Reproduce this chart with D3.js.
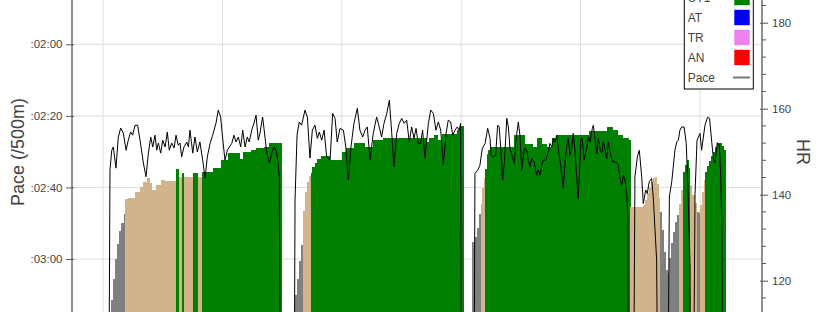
<!DOCTYPE html>
<html>
<head>
<meta charset="utf-8">
<script src="https://cdn.jsdelivr.net/npm/d3@7"></script>
<style>
html, body { margin: 0; padding: 0; background: #fff; overflow: hidden; }
svg { display: block; font-family: "Liberation Sans", Arial, sans-serif; }
</style>
</head>
<body>
<svg id="chart" width="819" height="312"></svg>
<script>
// HR zones (lower bound in bpm) and their colours
var zoneNames = ["<UT2", "UT2", "UT1", "AT", "TR", "AN"];
var zoneColors = ["gray", "tan", "green", "blue", "violet", "red"];
var zoneLower = [0, 136, 144.7, 160, 168, 176];

// tick values
var paceTicks = [120, 140, 160, 180];                // seconds per 500m
var hrTicks = [120, 140, 160, 180];
var hrMinorStep = 4;
var timeTicks = [600, 1200, 1800, 2400, 3000, 3600]; // seconds

// heart rate samples [time (s), bpm]; null closes the piece
var hrPiece1 = [[625,100],[635,108],[645,115.5],[655,120.5],[665,125],[675,128.5],[685,131.5],[695,133.5],
  [706,135.5],[713,138.9],[726,139.3],[761,140.7],[786,141.7],[801,143.0],[826,143.8],[836,142.8],[846,141.0],
  [871,142.2],[896,143.4],[912,143.1],[967,145.9],[983,144.2],[1000,145.1],[1008,144.2],[1057,145.1],
  [1079,144.2],[1101,145.3],[1154,146.1],[1196,148.0],[1230,149.8],[1288,148.4],[1305,150.0],[1347,150.5],
  [1372,150.9],[1414,151.2],[1439,152.0],[1498,null]];
var hrPiece2 = [[1555,110],[1565,116.6],[1575,120.5],[1585,124.5],[1595,128.2],[1605,132.2],[1610,136.2],
  [1620,140.6],[1630,142.9],[1640,144.3],[1648,145.0],[1655,146.4],[1670,147.3],[1680,148.3],[1700,149.0],
  [1741,148.0],[1801,149.9],[1826,150.8],[1866,152.0],[1917,151.1],[1957,152.7],[2007,153.2],[2228,152.2],
  [2243,153.2],[2268,153.9],[2283,152.7],[2308,154.1],[2379,155.0],[2394,156.0],[2414,null]];
var hrPiece3 = [[2459,129.0],[2474,130.1],[2484,132.2],[2494,135.5],[2502,137.8],[2509,141.5],[2517,143.9],
  [2522,146.0],[2530,149.5],[2537,150.5],[2545,151.0],[2670,153.9],[2721,151.9],[2761,151.1],[2781,153.1],
  [2806,151.9],[2831,151.1],[2861,153.1],[2886,153.9],[2911,154.0],[3047,154.8],[3133,155.8],[3163,155.0],
  [3188,154.0],[3213,153.1],[3243,152.7],[3251,137.1],[3314,137.5],[3324,138.7],[3334,140.3],[3344,141.7],
  [3354,142.9],[3364,143.8],[3374,144.1],[3384,142.4],[3394,139.2],[3401,135.9],[3409,131.7],[3419,126.6],
  [3429,122.4],[3439,121.9],[3449,125.2],[3459,128.7],[3469,131.3],[3479,133.6],[3489,135.2],[3499,137.8],
  [3509,141.0],[3517,145.3],[3525,146.9],[3535,148.0],[3545,146.2],[3552,142.2],[3562,139.9],[3575,138.0],
  [3585,135.9],[3595,135.7],[3602,137.6],[3612,140.6],[3622,143.4],[3630,145.3],[3640,146.6],[3650,147.8],
  [3660,149.0],[3670,149.9],[3680,151.1],[3690,152.0],[3701,152.0],[3711,151.3],[3721,150.4],[3731,null]];

// pace samples [time (s), seconds per 500m]; 300 = resting
var pacePiece1 = [[623,300],[635,155.2],[644,149.6],[652,148.7],[665,154.6],[677,145.9],[689,143.4],[702,144.8],
  [716,149.6],[727,146.8],[739,144.5],[749,145.4],[761,142.6],[774,142.6],[786,146.8],[803,153.2],[816,157.0],
  [828,150.4],[840,145.9],[850,148.7],[861,145.4],[870,149.6],[878,147.6],[890,150.4],[900,146.8],[912,148.7],
  [923,144.5],[933,149.6],[945,147.6],[957,149.0],[967,145.4],[978,148.2],[987,147.6],[995,151.5],[1007,148.7],
  [1021,147.3],[1029,148.7],[1037,144.0],[1051,150.4],[1062,145.9],[1074,150.1],[1087,147.3],[1101,152.4],
  [1113,157.4],[1124,151.5],[1138,147.7],[1151,145.4],[1168,142.0],[1179,138.4],[1191,140.3],[1204,147.7],
  [1213,152.4],[1225,149.6],[1235,148.7],[1247,147.7],[1258,145.4],[1268,147.3],[1280,145.9],[1292,148.7],
  [1302,144.0],[1314,148.7],[1325,145.9],[1335,147.3],[1347,144.0],[1359,142.0],[1369,139.8],[1380,146.8],
  [1389,144.8],[1402,140.3],[1414,145.9],[1423,150.4],[1436,153.2],[1448,150.4],[1459,148.7],[1469,149.6],
  [1476,151.5],[1486,157.0],[1494,300]];
var pacePiece2 = [[1555,300],[1565,163.5],[1575,145.4],[1586,141.7],[1598,142.6],[1615,138.4],[1627,140.3],
  [1640,151.8],[1652,144.0],[1665,142.6],[1677,146.3],[1687,144.5],[1699,146.8],[1711,144.0],[1724,151.5],
  [1741,152.4],[1754,139.3],[1766,140.7],[1777,147.3],[1791,143.5],[1808,144.0],[1820,148.7],[1833,158.0],
  [1846,148.7],[1861,142.1],[1878,137.9],[1891,144.0],[1905,145.9],[1917,144.0],[1928,143.1],[1942,152.4],
  [1958,144.9],[1975,140.3],[1988,143.1],[2000,145.9],[2012,142.1],[2026,139.3],[2039,135.6],[2051,144.9],
  [2062,154.2],[2076,144.9],[2089,142.1],[2101,140.7],[2113,142.1],[2126,141.2],[2139,147.3],[2151,143.1],
  [2163,146.3],[2173,143.5],[2184,147.7],[2196,147.7],[2206,144.0],[2218,151.9],[2235,142.1],[2247,138.4],
  [2260,139.3],[2273,144.0],[2285,141.7],[2297,144.0],[2310,153.8],[2324,144.9],[2335,141.2],[2347,141.7],
  [2357,145.4],[2369,144.0],[2380,143.1],[2390,144.0],[2397,142.1],[2404,300]];
var pacePiece3 = [[2459,300],[2469,156.1],[2483,155.2],[2494,153.8],[2506,149.1],[2520,147.7],[2533,143.5],
  [2545,146.3],[2550,151.0],[2561,151.5],[2573,151.0],[2583,142.6],[2591,143.1],[2600,150.1],[2608,158.0],
  [2617,152.9],[2629,140.7],[2637,143.1],[2645,149.1],[2657,151.5],[2667,153.3],[2675,146.8],[2687,141.7],
  [2695,145.4],[2704,155.2],[2717,149.1],[2729,149.6],[2737,152.4],[2746,154.2],[2754,151.9],[2767,152.9],
  [2779,156.6],[2787,155.2],[2796,156.6],[2804,153.8],[2812,152.4],[2825,152.4],[2835,150.5],[2846,147.7],
  [2855,148.7],[2863,146.3],[2871,147.3],[2880,145.4],[2888,149.1],[2901,154.2],[2913,160.3],[2922,152.9],
  [2930,148.7],[2938,146.3],[2947,151.0],[2955,149.1],[2963,144.9],[2972,150.1],[2980,156.6],[2988,163.1],
  [2997,152.9],[3002,146.3],[3008,146.3],[3018,152.4],[3031,149.1],[3039,145.9],[3047,147.3],[3059,143.5],
  [3064,142.6],[3072,146.3],[3081,150.5],[3089,146.3],[3097,149.1],[3106,150.5],[3114,147.3],[3122,149.1],
  [3131,151.9],[3139,147.3],[3148,150.1],[3156,151.9],[3164,152.9],[3181,152.9],[3189,153.8],[3198,157.5],
  [3206,159.4],[3215,156.6],[3223,158.0],[3232,162.1],[3237,167.7],[3243,300]];
var pacePiece4 = [[3258,300],[3273,157.0],[3285,151.5],[3295,149.6],[3307,157.0],[3315,164.5],[3327,160.7],
  [3335,161.7],[3345,158.4],[3357,157.5],[3365,162.6],[3382,180.3],[3399,300],[3429,300],[3446,162.6],
  [3458,158.4],[3474,149.6],[3483,147.3],[3491,146.8],[3499,144.0],[3508,143.1],[3520,143.1],[3531,147.7],
  [3541,163.5],[3550,182.2],[3557,300],[3575,161.7],[3585,146.8],[3600,144.9],[3608,149.6],[3625,142.6],
  [3638,140.4],[3648,140.7],[3659,147.3],[3667,151.9],[3675,153.2],[3687,147.5],[3697,148.2],[3704,156.6],
  [3710,171.9],[3718,300]];

var hrPieces = [hrPiece1, hrPiece2, hrPiece3];
var pacePieces = [pacePiece1, pacePiece2, pacePiece3, pacePiece4];

var width = 819, height = 312;
var plot = {left: 72, right: 762, top: -60, bottom: 364};

var svg = d3.select("#chart");

var x = d3.scaleLinear().domain([444.2, 3911.5]).range([plot.left, plot.right]);
var yPace = d3.scaleLinear().domain([120, 180]).range([44.3, 259]);
var yHr = d3.scaleLinear().domain([120, 180]).range([280.7, 22.7]);

function zoneOf(hr) {
  var z = 0;
  for (var i = 0; i < zoneLower.length; i++) { if (hr >= zoneLower[i]) z = i; }
  return z;
}

function paceFormat(s) {
  var m = Math.floor(s / 60), sec = Math.round(s - m * 60);
  return ":" + d3.format("02d")(m) + ":" + d3.format("02d")(sec);
}

svg.append("defs").append("clipPath").attr("id", "plotclip")
  .append("rect")
  .attr("x", plot.left).attr("y", plot.top)
  .attr("width", plot.right - plot.left).attr("height", plot.bottom - plot.top);

// grid
var grid = svg.append("g").attr("clip-path", "url(#plotclip)");
grid.selectAll(".vgrid").data(timeTicks).enter().append("line")
  .attr("x1", function(d) { return x(d); }).attr("x2", function(d) { return x(d); })
  .attr("y1", plot.top).attr("y2", plot.bottom)
  .attr("stroke", "#dedede").attr("stroke-width", 1);
grid.selectAll(".hgrid").data(paceTicks).enter().append("line")
  .attr("x1", plot.left).attr("x2", plot.right)
  .attr("y1", function(d) { return yPace(d); }).attr("y2", function(d) { return yPace(d); })
  .attr("stroke", "#dedede").attr("stroke-width", 1);

// HR bars coloured by zone
var bars = [];
hrPieces.forEach(function(piece) {
  for (var i = 0; i < piece.length - 1; i++) {
    if (piece[i][1] == null) continue;
    bars.push({t0: piece[i][0], t1: piece[i + 1][0], hr: piece[i][1]});
  }
});

var barLayer = svg.append("g").attr("clip-path", "url(#plotclip)");
barLayer.selectAll("rect").data(bars).enter().append("rect")
  .attr("x", function(d) { return Math.floor(x(d.t0)); })
  .attr("width", function(d) { return Math.round(x(d.t1)) - Math.floor(x(d.t0)); })
  .attr("y", function(d) { return yHr(d.hr); })
  .attr("height", function(d) { return plot.bottom - yHr(d.hr); })
  .attr("fill", function(d) { return zoneColors[zoneOf(d.hr)]; })
  .attr("shape-rendering", "crispEdges");

// pace line
var line = d3.line()
  .x(function(d) { return x(d[0]); })
  .y(function(d) { return yPace(d[1]); });

var lineLayer = svg.append("g").attr("clip-path", "url(#plotclip)");
lineLayer.selectAll("path").data(pacePieces).enter().append("path")
  .attr("d", line)
  .attr("fill", "none")
  .attr("stroke", "black")
  .attr("stroke-width", 1);

// left axis (pace)
var leftAxis = svg.append("g")
  .attr("transform", "translate(" + plot.left + ",0)")
  .call(d3.axisLeft(yPace).tickValues(paceTicks).tickFormat(paceFormat).tickSizeInner(6).tickSizeOuter(0).tickPadding(3.5));
leftAxis.select(".domain").remove();
leftAxis.selectAll(".tick line").attr("stroke", "#555").attr("x2", -6).attr("x1", 2);
leftAxis.selectAll(".tick text").attr("fill", "#444").style("font-size", "11.5px")
  .style("font-family", "'Liberation Sans', Arial, sans-serif");
leftAxis.append("line")
  .attr("x1", 0).attr("x2", 0).attr("y1", plot.top).attr("y2", plot.bottom)
  .attr("stroke", "#555").attr("stroke-width", 1.3);

// right axis (HR)
var hrMinor = d3.range(112, 192, hrMinorStep).filter(function(v) { return hrTicks.indexOf(v) < 0; });
var rightAxis = svg.append("g")
  .attr("transform", "translate(" + plot.right + ",0)");
rightAxis.call(d3.axisRight(yHr).tickValues(hrTicks).tickSizeInner(6).tickSizeOuter(0).tickPadding(4));
rightAxis.select(".domain").remove();
rightAxis.selectAll(".tick line").attr("stroke", "#555").attr("x1", -2).attr("x2", 6);
rightAxis.selectAll(".tick text").attr("fill", "#444").style("font-size", "11.5px")
  .style("font-family", "'Liberation Sans', Arial, sans-serif");
rightAxis.selectAll(".minor").data(hrMinor).enter().append("line")
  .attr("x1", 0).attr("x2", 4)
  .attr("y1", function(d) { return yHr(d); }).attr("y2", function(d) { return yHr(d); })
  .attr("stroke", "#555");
rightAxis.append("line")
  .attr("x1", 0).attr("x2", 0).attr("y1", plot.top).attr("y2", plot.bottom)
  .attr("stroke", "#555").attr("stroke-width", 1.3);

// axis titles
var midY = (plot.top + plot.bottom) / 2;
svg.append("text")
  .attr("transform", "translate(18," + midY + ") rotate(-90)")
  .attr("text-anchor", "middle").attr("dominant-baseline", "central")
  .attr("fill", "#444").style("font-size", "18px")
  .text("Pace (/500m)");
svg.append("text")
  .attr("transform", "translate(803," + midY + ") rotate(90)")
  .attr("text-anchor", "middle").attr("dominant-baseline", "central")
  .attr("fill", "#444").style("font-size", "18px")
  .text("HR");

// legend: the rows above the window are scrolled off, UT1 is half visible
var legendItems = zoneNames.map(function(n, i) { return {name: n, color: zoneColors[i], type: "box"}; });
legendItems.push({name: "Pace", color: "#777", type: "line"});
var legendRowH = 20, legendLastY = 77.5;
var legendFirstY = legendLastY - legendRowH * (legendItems.length - 1);
legendItems.forEach(function(d, i) { d.y = legendFirstY + i * legendRowH; });

var legend = svg.append("g");
legend.append("rect")
  .attr("x", 684.3).attr("y", legendFirstY - 14)
  .attr("width", 69).attr("height", 89 - (legendFirstY - 14))
  .attr("fill", "white").attr("stroke", "black").attr("stroke-width", 1);

var rows = legend.selectAll(".row").data(legendItems.filter(function(d) { return d.y > -12; }))
  .enter().append("g")
  .attr("transform", function(d) { return "translate(0," + d.y + ")"; });
rows.append("text")
  .attr("x", 687.7).attr("y", 4.3)
  .attr("fill", "#444").style("font-size", "12px")
  .text(function(d) { return d.name; });
rows.filter(function(d) { return d.type == "box"; }).append("rect")
  .attr("x", 734.5).attr("y", -7.5).attr("width", 15).attr("height", 15)
  .attr("fill", function(d) { return d.color; })
  .attr("stroke", function(d) { return d.color; }).attr("stroke-opacity", 0.4);
rows.filter(function(d) { return d.type == "line"; }).append("line")
  .attr("x1", 733).attr("x2", 750).attr("y1", 0).attr("y2", 0)
  .attr("stroke", function(d) { return d.color; }).attr("stroke-width", 2);
</script>
</body>
</html>
